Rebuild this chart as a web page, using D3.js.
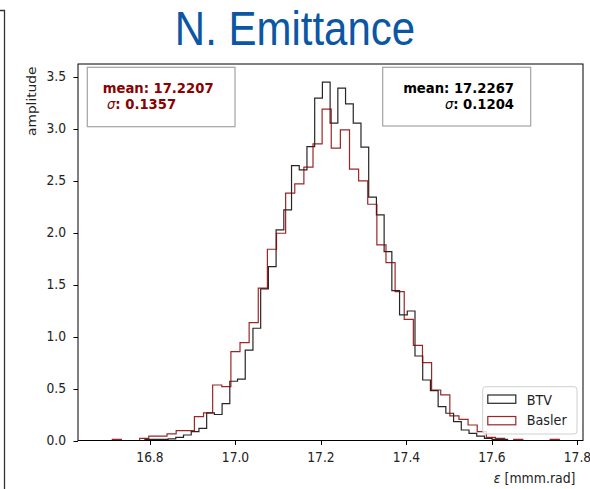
<!DOCTYPE html>
<html><head><meta charset="utf-8">
<script src="https://cdn.jsdelivr.net/npm/d3@7/dist/d3.min.js"></script>
<style>body{margin:0;background:#fff;} svg{display:block;}</style>
</head><body>
<svg id="c" width="590" height="489"></svg>
<script>
// ---------- data ----------
const titleText = "N. Emittance";
const seriesNames = ["BTV", "Basler"];
const seriesColors = ["#000000", "#8b0000"];
const btvBinStart = 16.734, btvBinWidth = 0.01805;
const baslerBinStart = 16.6905, baslerBinWidth = 0.02134;
const btvValues = [0, 0, 0, 0.01, 0.01, 0.01, 0.015, 0.03, 0.053, 0.085,
  0.117, 0.265, 0.25, 0.355, 0.57, 0.59, 0.87, 1.08, 1.458, 1.673,
  2.026, 2.218, 2.645, 2.603, 2.828, 3.293, 3.447, 3.053, 3.39, 3.239,
  3.053, 2.822, 2.341, 2.17, 1.817, 1.442, 1.208, 1.246, 0.813, 0.582,
  0.479, 0.325, 0.262, 0.181, 0.101, 0.069, 0.043, 0.021, 0.01, 0.01];
const baslerValues = [0, 0.01, 0, 0, 0.02, 0.043, 0.043, 0.063, 0.095, 0.095,
  0.229, 0.265, 0.534, 0.518, 0.855, 0.941, 1.134, 1.465, 1.84, 1.994,
  2.379, 2.469, 2.629, 2.854, 3.187, 2.812, 2.988, 2.61, 2.498, 2.273,
  1.882, 1.711, 1.432, 1.166, 0.916, 0.749, 0.486, 0.438, 0.236, 0.204,
  0.149, 0.085, 0.03, 0.02, 0, 0.01, 0, 0, 0, 0.01];
const xTicks = [16.8, 17.0, 17.2, 17.4, 17.6, 17.8];
const yTicks = [0.0, 0.5, 1.0, 1.5, 2.0, 2.5, 3.0, 3.5];
const xDomain = [16.6316, 17.8129];
const yDomain = [0, 3.622];
const xLabel = "[mmm.rad]";
const yLabel = "amplitude";
const statsBasler = ["mean: 17.2207", "0.1357"];
const statsBtv = ["mean: 17.2267", "0.1204"];

// ---------- layout ----------
const L = 78, R = 583, T = 64, B = 440.5;
const SY = 1.1; // vertical stretch of the picture's text
const svg = d3.select("#c");
const x = d3.scaleLinear().domain(xDomain).range([L, R]);
const y = d3.scaleLinear().domain(yDomain).range([B, T]);
const DJ = "'DejaVu Sans', sans-serif";

function txt(g, px, py, size, anchor, sy) {
  return g.append("text")
    .attr("transform", `translate(${px},${py}) scale(1,${sy || SY})`)
    .attr("font-family", DJ).attr("font-size", size)
    .attr("text-anchor", anchor || "start");
}

// slide frame fragment at left
svg.append("path").attr("d", "M0,10.5 H4.5 V489").attr("fill", "none")
  .attr("stroke", "#333").attr("stroke-width", 1.3);

// title
svg.append("text")
  .attr("transform", `translate(295,44.5) scale(1,1.14)`)
  .attr("font-family", "'Liberation Sans', Arial, sans-serif")
  .attr("font-size", 42).attr("text-anchor", "middle")
  .attr("fill", "#0b57a4").text(titleText);

// histograms
function stepPoints(start, width, vals) {
  const pts = [[start, 0]];
  vals.forEach((v, i) => {
    pts.push([start + i * width, v]);
    pts.push([start + (i + 1) * width, v]);
  });
  pts.push([start + vals.length * width, 0]);
  return pts;
}
const line = d3.line().x(d => x(d[0])).y(d => y(d[1]));
const plot = svg.append("g");
plot.append("path").attr("d", line(stepPoints(btvBinStart, btvBinWidth, btvValues)))
  .attr("fill", "none").attr("stroke", seriesColors[0]).attr("stroke-opacity", 0.85)
  .attr("stroke-width", 1.2);
plot.append("path").attr("d", line(stepPoints(baslerBinStart, baslerBinWidth, baslerValues)))
  .attr("fill", "none").attr("stroke", seriesColors[1]).attr("stroke-opacity", 0.85)
  .attr("stroke-width", 1.2);

// frame
svg.append("rect").attr("x", L).attr("y", T).attr("width", R - L).attr("height", B - T)
  .attr("fill", "none").attr("stroke", "#000").attr("stroke-width", 1);

// ticks
const tg = svg.append("g");
xTicks.forEach(t => {
  const px = Math.round(x(t)) + 0.5;
  tg.append("line").attr("x1", px).attr("x2", px).attr("y1", B).attr("y2", B + 4.5)
    .attr("stroke", "#000").attr("stroke-width", 1);
  txt(tg, x(t), 462.3, 12.3, "middle").attr("fill", "#222").text(d3.format(".1f")(t));
});
yTicks.forEach(t => {
  const py = Math.round(y(t)) + 0.5;
  tg.append("line").attr("x1", L - 4.5).attr("x2", L).attr("y1", py).attr("y2", py)
    .attr("stroke", "#000").attr("stroke-width", 1);
  txt(tg, 66, y(t) + 4.4, 12.3, "end").attr("fill", "#222").text(d3.format(".1f")(t));
});

// axis labels
svg.append("text")
  .attr("transform", `translate(35.5,66.5) scale(1,${SY}) rotate(-90)`)
  .attr("font-family", DJ).attr("font-size", 12.5).attr("text-anchor", "end")
  .attr("fill", "#222").text(yLabel);
const xl = txt(svg, 575.5, 483.3, 12.5, "end").attr("fill", "#222");
xl.append("tspan").attr("font-style", "italic").text("ε");
xl.append("tspan").text(" " + xLabel);

// stats boxes
function statBox(bx, by, bw, bh, lines, color, anchor, tx, indent) {
  svg.append("rect").attr("x", bx).attr("y", by).attr("width", bw).attr("height", bh)
    .attr("fill", "#fff").attr("stroke", "#a3a3a3").attr("stroke-width", 1.2);
  txt(svg, tx, 93.2, 13.2, anchor, 1.05).attr("font-weight", "bold").attr("fill", color).text(lines[0]);
  const t2 = txt(svg, tx + indent, 109.2, 13.2, anchor, 1.05).attr("font-weight", "bold").attr("fill", color);
  t2.append("tspan").attr("font-style", "italic").attr("font-weight", "normal").text("σ");
  t2.append("tspan").text(": " + lines[1]);
}
statBox(87.3, 67.3, 147.7, 59.4, statsBasler, "#8b0000", "start", 102.7, 4.3);
statBox(382.7, 67.3, 148, 58.7, statsBtv, "#000", "end", 514, 0);

// legend
const lg = svg.append("g");
lg.append("rect").attr("x", 482.7).attr("y", 386.7).attr("width", 94.3).attr("height", 47.3)
  .attr("rx", 3).attr("fill", "#fff").attr("fill-opacity", 0.8)
  .attr("stroke", "#cfcfcf").attr("stroke-width", 1);
seriesNames.forEach((n, i) => {
  const yy = 395 + i * 21.5;
  lg.append("rect").attr("x", 487.8).attr("y", yy).attr("width", 28).attr("height", 8.3)
    .attr("fill", "none").attr("stroke", seriesColors[i]).attr("stroke-opacity", 0.85)
    .attr("stroke-width", 1.2);
  txt(lg, 526.7, 404.5 + i * 20.8, 12.8, "start").attr("fill", "#222").text(n);
});
</script>
</body></html>
